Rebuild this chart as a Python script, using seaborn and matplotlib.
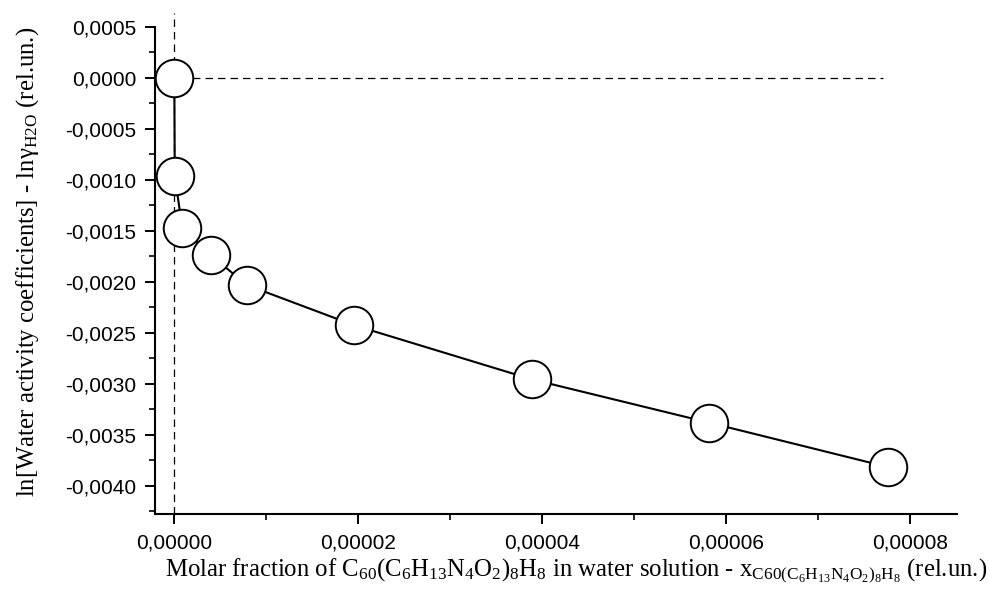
import matplotlib
matplotlib.use("Agg")
import matplotlib.pyplot as plt
from matplotlib.ticker import FuncFormatter, MultipleLocator
import seaborn as sns
import pandas as pd

# Data
molar_fraction = [0.0, 0.00000005, 0.00000087, 0.00000396, 0.00000787,
                  0.00001949, 0.00003887, 0.00005818, 0.00007762]
ln_gamma = [0.0, -0.000964, -0.001474, -0.001738, -0.002032,
            -0.002425, -0.002957, -0.003382, -0.003817]

x_major_ticks = [0.0, 0.00002, 0.00004, 0.00006, 0.00008]
y_major_ticks = [0.0005, 0.0, -0.0005, -0.0010, -0.0015, -0.0020,
                 -0.0025, -0.0030, -0.0035, -0.0040]

df = pd.DataFrame({"x": molar_fraction, "y": ln_gamma})

sns.set_style("white")
plt.rcParams["mathtext.default"] = "regular"

fig = plt.figure(figsize=(9.89, 5.94), dpi=100)
ax = fig.add_axes([155 / 989, 1 - 514.3 / 594, (957 - 155) / 989, (514.3 - 13.3) / 594])

# reference dashed lines
ax.axvline(0.0, color="black", lw=0.9, ls=(0, (6, 4)), zorder=1)
ax.plot([-0.0000021, 0.0000771], [0.0, 0.0], color="black", lw=0.9,
        ls=(0, (6, 4)), zorder=1)

sns.lineplot(data=df, x="x", y="y", sort=False, ax=ax, color="black",
             linewidth=1.5, marker="o", markersize=27,
             markerfacecolor="white", markeredgecolor="black",
             markeredgewidth=1.4, zorder=3)

ax.set_xlim(-0.0000021, 0.00008512)
ax.set_ylim(-0.004280, 0.000631)

for s in ["top", "right"]:
    ax.spines[s].set_visible(False)
for s in ["left", "bottom"]:
    ax.spines[s].set_linewidth(1.5)
    ax.spines[s].set_color("black")
ax.spines["left"].set_bounds(-0.004280, 0.0005)

ax.set_xticks(x_major_ticks)
ax.set_yticks(y_major_ticks)
ax.xaxis.set_minor_locator(MultipleLocator(0.00001))
ax.yaxis.set_minor_locator(MultipleLocator(0.00025))
ax.xaxis.set_major_formatter(FuncFormatter(lambda v, p: f"{v:.5f}".replace(".", ",").replace("-0,00000", "0,00000")))
ax.yaxis.set_major_formatter(FuncFormatter(lambda v, p: f"{v:.4f}".replace(".", ",").replace("-0,0000", "0,0000")))

ax.tick_params(axis="both", which="major", direction="out", length=7.5, width=1.4,
               labelsize=15, colors="black", bottom=True, left=True, pad=6)
ax.tick_params(axis="both", which="minor", direction="out", length=4, width=1.4,
               bottom=True, left=True)
for lab in ax.get_xticklabels() + ax.get_yticklabels():
    lab.set_fontfamily("Liberation Sans")

ax.set_xlabel("")
ax.set_ylabel("")

xlabel = ("Molar fraction of C$_{60}$(C$_{6}$H$_{13}$N$_{4}$O$_{2}$)$_{8}$H$_{8}$ in water solution - "
          "x$_{C60(C_{6}H_{13}N_{4}O_{2})_{8}H_{8}}$ (rel.un.)")
ylabel = "ln[Water activity coefficients] - ln$\\gamma_{H2O}$ (rel.un.)"

fig.text(576 / 989, 1 - 571 / 594, xlabel, ha="center", va="center",
         fontsize=17.8, fontfamily="Liberation Serif", color="black")
fig.text(28 / 989, 1 - 262 / 594, ylabel, ha="center", va="center", rotation=90,
         fontsize=17.8, fontfamily="Liberation Serif", color="black")

fig.savefig("out.png", dpi=100, facecolor="white")
